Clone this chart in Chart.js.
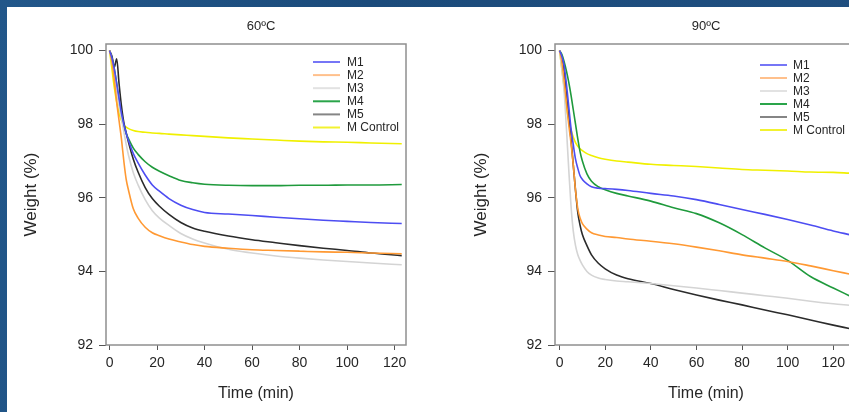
<!DOCTYPE html>
<html>
<head>
<meta charset="utf-8">
<script src="https://cdn.jsdelivr.net/npm/chart.js@4.4.1/dist/chart.umd.min.js"></script>
<style>
  html, body { margin: 0; padding: 0; }
  body {
    width: 849px; height: 412px; overflow: hidden; position: relative;
    background: linear-gradient(100deg, #22578a 0%, #1b4b7b 40%, #204f80 100%);
    font-family: "Liberation Sans", Arial, sans-serif;
  }
  #panel { position: absolute; left: 7px; top: 7px; right: 0; bottom: 0; background: #fff; }
  #wrapA { position: absolute; left: 0; top: 0; width: 430px; height: 412px; }
  #wrapB { position: absolute; left: 430px; top: 0; width: 440px; height: 412px; }
</style>
</head>
<body>
<div id="panel"></div>
<div id="wrapA"><canvas id="chart60"></canvas></div>
<div id="wrapB"><canvas id="chart90"></canvas></div>
<script>
// series names + colours
const seriesNames = ["M1", "M2", "M3", "M4", "M5", "M Control"];
const lineColors = ["#4d4df2", "#ff9933", "#d4d4d4", "#1f9a3c", "#2b2b2b", "#f0f000"];
const legendColors = ["#7676f6", "#ffc08c", "#e2e2e2", "#2aa44a", "#858585", "#f2f230"];

const xTicks = [0, 20, 40, 60, 80, 100, 120];
const yTicks = [92, 94, 96, 98, 100];

// 60ºC run (time in min, weight %)
const time60 = [0, 1, 2, 3, 4, 5, 6, 7, 8, 10, 12, 15, 18, 21, 25, 30, 35, 40, 50, 60, 70, 80, 90, 100, 110, 123];
const m1_60 = [100, 99.8, 99.5, 99.1, 98.7, 98.3, 98.0, 97.75, 97.55, 97.2, 96.95, 96.62, 96.35, 96.18, 95.98, 95.8, 95.68, 95.6, 95.56, 95.52, 95.47, 95.43, 95.39, 95.36, 95.33, 95.3];
const m2_60 = [100, 99.7, 99.2, 98.6, 98.1, 97.6, 97.0, 96.5, 96.2, 95.7, 95.45, 95.2, 95.05, 94.97, 94.88, 94.8, 94.73, 94.68, 94.63, 94.59, 94.57, 94.55, 94.53, 94.52, 94.5, 94.48];
const m3_60 = [100, 99.7, 99.3, 98.9, 98.5, 98.15, 97.8, 97.45, 97.15, 96.68, 96.35, 95.95, 95.65, 95.45, 95.25, 95.03, 94.88, 94.77, 94.6, 94.5, 94.42, 94.36, 94.31, 94.27, 94.23, 94.18];
const m4_60 = [100, 99.8, 99.5, 99.1, 98.6, 98.25, 97.95, 97.75, 97.6, 97.35, 97.18, 96.98, 96.83, 96.72, 96.6, 96.47, 96.41, 96.37, 96.34, 96.33, 96.33, 96.34, 96.34, 96.35, 96.35, 96.36];
const m5_60 = [100, 99.85, 99.55, 99.78, 99.1, 98.5, 98.05, 97.77, 97.5, 97.05, 96.7, 96.28, 95.98, 95.77, 95.55, 95.33, 95.18, 95.09, 94.96, 94.86, 94.78, 94.7, 94.63, 94.57, 94.5, 94.43];
const ctrl_60 = [100, 99.5, 99.0, 98.6, 98.3, 98.1, 97.97, 97.92, 97.88, 97.83, 97.8, 97.78, 97.76, 97.75, 97.73, 97.71, 97.69, 97.67, 97.63, 97.6, 97.57, 97.54, 97.52, 97.51, 97.49, 97.47];

// 90ºC run
const time90 = [0, 1, 2, 3, 4, 5, 6, 7, 8, 9, 10, 12, 14, 17, 20, 25, 30, 40, 50, 60, 70, 80, 90, 100, 110, 120, 127];
const m1_90 = [100, 99.85, 99.6, 99.1, 98.5, 97.9, 97.45, 97.05, 96.8, 96.6, 96.5, 96.38, 96.3, 96.26, 96.25, 96.23, 96.2, 96.12, 96.05, 95.95, 95.82, 95.68, 95.55, 95.41, 95.26, 95.1, 95.0];
const m2_90 = [100, 99.7, 99.2, 98.6, 98.0, 97.5, 96.9, 96.2, 95.7, 95.45, 95.3, 95.15, 95.05, 94.99, 94.95, 94.92, 94.88, 94.82, 94.75, 94.66, 94.56, 94.45, 94.36, 94.27, 94.15, 94.02, 93.93];
const m3_90 = [100, 99.5, 98.9, 97.9, 96.8, 95.8, 95.1, 94.7, 94.45, 94.3, 94.18, 94.0, 93.9, 93.82, 93.78, 93.74, 93.72, 93.67, 93.61, 93.55, 93.48, 93.41, 93.34, 93.27, 93.19, 93.12, 93.08];
const m4_90 = [100, 99.9, 99.7, 99.45, 99.15, 98.8, 98.4, 98.0, 97.6, 97.25, 97.0, 96.65, 96.45, 96.3, 96.22, 96.12, 96.05, 95.91, 95.73, 95.57, 95.32, 95.0, 94.64, 94.3, 93.86, 93.55, 93.34];
const m5_90 = [100, 99.8, 99.4, 98.8, 98.2, 97.6, 96.9, 96.2, 95.6, 95.25, 95.0, 94.7, 94.45, 94.22, 94.07, 93.9, 93.8, 93.67, 93.51, 93.36, 93.22, 93.09, 92.95, 92.82, 92.68, 92.54, 92.45];
const ctrl_90 = [100, 99.5, 99.0, 98.5, 98.1, 97.85, 97.65, 97.5, 97.4, 97.33, 97.28, 97.2, 97.15, 97.09, 97.05, 97.0, 96.97, 96.91, 96.88, 96.85, 96.81, 96.77, 96.75, 96.73, 96.7, 96.69, 96.67];

Chart.defaults.font.family = "'Liberation Sans', Arial, sans-serif";
Chart.defaults.color = "#262626";

// frame round the plot + inside legend + small title
const framePlugin = {
  id: "frame",
  afterDatasetsDraw(chart, args, opts) {
    const { ctx, chartArea: a } = chart;
    ctx.save();
    ctx.strokeStyle = "#8f8f8f";
    ctx.lineWidth = 1.5;
    ctx.strokeRect(a.left, a.top, a.right - a.left, a.bottom - a.top);

    // legend
    ctx.font = "12px 'Liberation Sans', Arial, sans-serif";
    ctx.textBaseline = "middle";
    ctx.fillStyle = "#262626";
    ctx.lineWidth = 2;
    chart.data.datasets.forEach((ds, i) => {
      const y = opts.legendY + i * opts.legendStep;
      ctx.strokeStyle = legendColors[i];
      ctx.beginPath();
      ctx.moveTo(opts.legendX1, y);
      ctx.lineTo(opts.legendX2, y);
      ctx.stroke();
      ctx.fillText(ds.label, opts.legendTextX, y + 0.5);
    });

    // heading
    ctx.font = "13px 'Liberation Sans', Arial, sans-serif";
    ctx.textAlign = "center";
    ctx.fillText(opts.heading, opts.headingX, opts.headingY);
    ctx.restore();
  }
};

function makeDatasets(values) {
  return values.map((v, i) => ({
    label: seriesNames[i],
    data: v,
    borderColor: lineColors[i],
    borderWidth: 1.6,
    pointRadius: 0,
    cubicInterpolationMode: "monotone",
    fill: false
  }));
}

function makeChart(id, time, values, cfg) {
  const ctx = document.getElementById(id).getContext("2d");
  return new Chart(ctx, {
    type: "line",
    data: { labels: time, datasets: makeDatasets(values) },
    options: {
      responsive: true,
      maintainAspectRatio: false,
      animation: false,
      parsing: true,
      layout: { padding: { left: 0, right: cfg.padRight, top: 44, bottom: 0 } },
      plugins: {
        legend: { display: false },
        tooltip: { enabled: false },
        frame: cfg.frame
      },
      scales: {
        x: {
          type: "linear",
          min: cfg.xMin,
          max: cfg.xMax,
          afterBuildTicks: s => { s.ticks = xTicks.map(v => ({ value: v })); },
          afterFit: s => { s.height = 412 - 345; },
          grid: { drawOnChartArea: false, drawTicks: true, tickLength: 5, color: "#555" },
          border: { display: false },
          ticks: { font: { size: 14 }, padding: 5, maxRotation: 0 },
          title: { display: true, text: "Time (min)", font: { size: 16 }, padding: { top: 0, bottom: 9 } }
        },
        y: {
          min: 92,
          max: 100.18,
          afterBuildTicks: s => { s.ticks = yTicks.map(v => ({ value: v })); },
          afterFit: s => { s.width = cfg.yWidth; },
          grid: { drawOnChartArea: false, drawTicks: true, tickLength: 7, color: "#555" },
          border: { display: false },
          ticks: { font: { size: 14 }, padding: 6 },
          title: { display: true, text: "Weight (%)", font: { size: 17 }, padding: { top: cfg.yTitlePad, bottom: 0 } }
        }
      }
    },
    plugins: [framePlugin]
  });
}

makeChart("chart60", time60, [m1_60, m2_60, m3_60, m4_60, m5_60, ctrl_60], {
  xMin: -1.5, xMax: 124.8, yWidth: 106, padRight: 24, yTitlePad: 21.5,
  frame: { legendX1: 313, legendX2: 340, legendTextX: 347, legendY: 62, legendStep: 13.1,
           heading: "60ºC", headingX: 261, headingY: 26 }
});

makeChart("chart90", time90, [m1_90, m2_90, m3_90, m4_90, m5_90, ctrl_90], {
  xMin: -2, xMax: 130.4, yWidth: 125, padRight: 13, yTitlePad: 41.5,
  frame: { legendX1: 330, legendX2: 357, legendTextX: 363, legendY: 65, legendStep: 13,
           heading: "90ºC", headingX: 276, headingY: 26 }
});
</script>
</body>
</html>
